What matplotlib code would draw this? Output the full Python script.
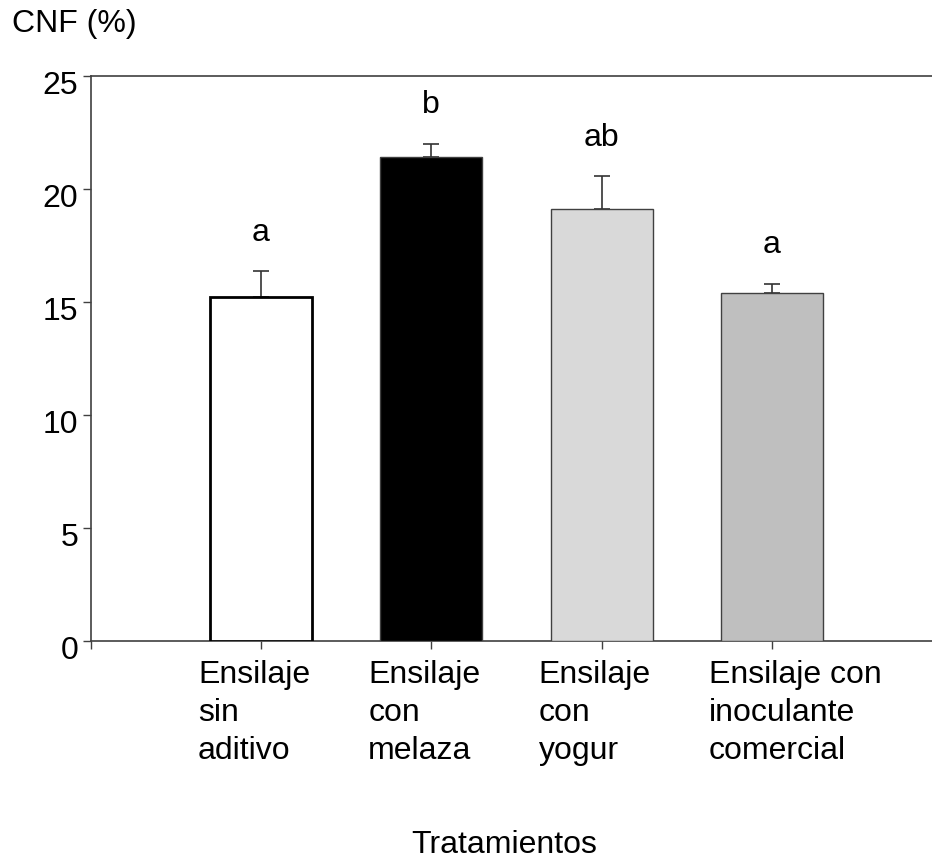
import matplotlib.pyplot as plt
import matplotlib.transforms as mtransforms

# Data
tratamientos = ['Ensilaje\nsin\naditivo', 'Ensilaje\ncon\nmelaza',
                'Ensilaje\ncon\nyogur', 'Ensilaje con\ninoculante\ncomercial']
cnf = [15.2, 21.4, 19.1, 15.4]
cnf_err = [1.15, 0.6, 1.45, 0.4]
letras = ['a', 'b', 'ab', 'a']

colores = ['white', 'black', '#d9d9d9', '#bfbfbf']

plt.rcParams['font.family'] = ['Liberation Sans', 'DejaVu Sans']
plt.rcParams['font.size'] = 23

fig = plt.figure(figsize=(9.32, 8.62), dpi=100)
ax = fig.add_axes([0.0973, 0.2558, 0.9027, 0.6549])

pos = [1, 2, 3, 4]
axis_col = '#404040'

for i in range(len(pos)):
    if i == 0:
        ec, lw = 'black', 2.0
    else:
        ec, lw = axis_col, 1.0
    ax.bar(pos[i], cnf[i], width=0.6, color=colores[i], edgecolor=ec,
           linewidth=lw, zorder=3)
    ax.errorbar(pos[i], cnf[i], yerr=[[0], [cnf_err[i]]], fmt='none',
                ecolor='#333333', elinewidth=1.2, capsize=6, capthick=1.2,
                zorder=2)
    ax.text(pos[i], cnf[i] + cnf_err[i] + 1.75, letras[i], ha='center',
            va='center', fontsize=23)

ax.set_xlim(0, 4.94)
ax.set_ylim(0, 25)
ax.set_yticks([0, 5, 10, 15, 20, 25])
ax.set_xticks([0, 1, 2, 3, 4])
ax.set_xticklabels([])

for s in ['left', 'bottom', 'top']:
    ax.spines[s].set_color(axis_col)
    ax.spines[s].set_linewidth(1.2)
ax.spines['right'].set_visible(False)

ax.tick_params(axis='both', color=axis_col, width=1.0, length=6, direction='out',
               labelsize=23, pad=3)

# y tick labels sit a little below their ticks
off = mtransforms.ScaledTranslation(0, -6 / 100, fig.dpi_scale_trans)
for lab in ax.get_yticklabels():
    lab.set_transform(lab.get_transform() + off)

# category labels, left aligned under each bar
trans = mtransforms.blended_transform_factory(ax.transData, ax.transAxes)
for i in range(len(pos)):
    ax.text(pos[i] - 0.37, -0.032, tratamientos[i], transform=trans,
            ha='left', va='top', fontsize=23, linespacing=1.36)

fig.text(504.5 / 932, 1 - 845 / 862, 'Tratamientos', ha='center',
         va='center', fontsize=23)
fig.text(12 / 932, 1 - 24 / 862, 'CNF (%)', ha='left', va='center',
         fontsize=23)

plt.savefig('out.png', dpi=100)
